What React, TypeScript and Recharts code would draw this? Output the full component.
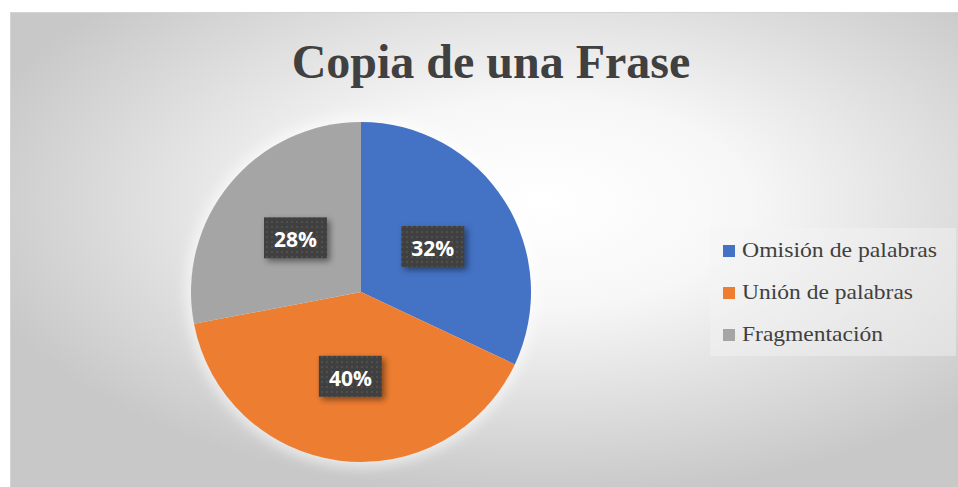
import React from "react";
import { PieChart, Pie, Cell, Legend } from "recharts";

const categories = ["Omisión de palabras", "Unión de palabras", "Fragmentación"];
const values = [32, 40, 28];
const colors = ["#4472C4", "#ED7D31", "#A5A5A5"];
const legendWidths = [195, 171, 141];

const data = categories.map((name, i) => ({ name, value: values[i] }));

const RAD = Math.PI / 180;

const renderLabel = (props: any) => {
  const { cx, cy, midAngle, outerRadius, value } = props;
  const r = outerRadius * 0.5;
  const x = cx + r * Math.cos(-midAngle * RAD);
  const y = cy + r * Math.sin(-midAngle * RAD);
  return (
    <g>
      <rect x={x - 31.5} y={y - 20.5} width={63} height={41} fill="url(#dotPattern)" filter="url(#boxShadow)" />
      <text
        x={x}
        y={y + 9.5}
        textAnchor="middle"
        fill="#ffffff"
        style={{ fontFamily: "'Open Sans', sans-serif", fontWeight: 700, fontSize: 21 }}
      >
        {`${value}%`}
      </text>
    </g>
  );
};

const renderLegend = (props: any) => {
  const payload = [...(props.payload || [])].sort(
    (a: any, b: any) => categories.indexOf(a.value) - categories.indexOf(b.value)
  );
  return (
    <svg width={246} height={128} style={{ display: "block" }}>
      <rect x={0} y={0} width={246} height={128} fill="#f4f4f4" fillOpacity={0.45} />
      {payload.map((entry: any, i: number) => {
        const idx = categories.indexOf(entry.value);
        const base = 29 + idx * 42;
        return (
          <g key={i}>
            <rect x={13} y={base - 12} width={12} height={12} fill={entry.color} />
            <text
              x={32}
              y={base}
              fill="#404040"
              textLength={legendWidths[idx]}
              lengthAdjust="spacingAndGlyphs"
              style={{ fontFamily: "'Liberation Serif', 'Times New Roman', serif", fontSize: 21.5 }}
            >
              {entry.value}
            </text>
          </g>
        );
      })}
    </svg>
  );
};

export default function App() {
  return (
    <div style={{ position: "absolute", left: 0, top: 0, width: 958, height: 487 }}>
      <svg width={958} height={487} style={{ position: "absolute", left: 0, top: 0 }}>
        <defs>
          <radialGradient id="bgGrad" cx="0.56" cy="0.4" r="0.62">
            <stop offset="0" stopColor="#ffffff" />
            <stop offset="0.35" stopColor="#f7f7f7" />
            <stop offset="1" stopColor="#c8c8c8" />
          </radialGradient>
          <pattern id="dotPattern" width={5} height={5} patternUnits="userSpaceOnUse">
            <rect width={5} height={5} fill="#404040" />
            <rect x={1} y={1} width={2} height={2} fill="#4f4f4f" />
          </pattern>
          <filter id="boxShadow" x="-30%" y="-30%" width="170%" height="170%">
            <feDropShadow dx={3} dy={3} stdDeviation={3} floodColor="#000000" floodOpacity={0.45} />
          </filter>
          <filter id="glow" x="-20%" y="-20%" width="140%" height="140%">
            <feGaussianBlur stdDeviation={6} />
          </filter>
        </defs>
        <rect x={10.5} y={12.5} width={948} height={475} fill="url(#bgGrad)" stroke="#d4d4d4" strokeWidth={1} />
        <circle cx={361} cy={292} r={176} fill="#ffffff" fillOpacity={0.55} filter="url(#glow)" />
        <text
          x={491}
          y={78}
          textAnchor="middle"
          fill="#404040"
          style={{ fontFamily: "'Liberation Serif', 'Times New Roman', serif", fontWeight: 700, fontSize: 48 }}
        >
          Copia de una Frase
        </text>
      </svg>
      <div style={{ position: "absolute", left: 0, top: 0 }}>
        <PieChart width={958} height={487} margin={{ top: 0, right: 0, bottom: 0, left: 0 }}>
          <Pie
            data={data}
            dataKey="value"
            nameKey="name"
            cx={361}
            cy={292}
            outerRadius={170}
            startAngle={90}
            endAngle={-270}
            stroke="none"
            label={renderLabel}
            labelLine={false}
            isAnimationActive={false}
          >
            {data.map((d, i) => (
              <Cell key={d.name} fill={colors[i]} />
            ))}
          </Pie>
          <Legend
            content={renderLegend}
            wrapperStyle={{ position: "absolute", left: 710, top: 228, width: 246, height: 128, bottom: "auto" }}
          />
        </PieChart>
      </div>
    </div>
  );
}
